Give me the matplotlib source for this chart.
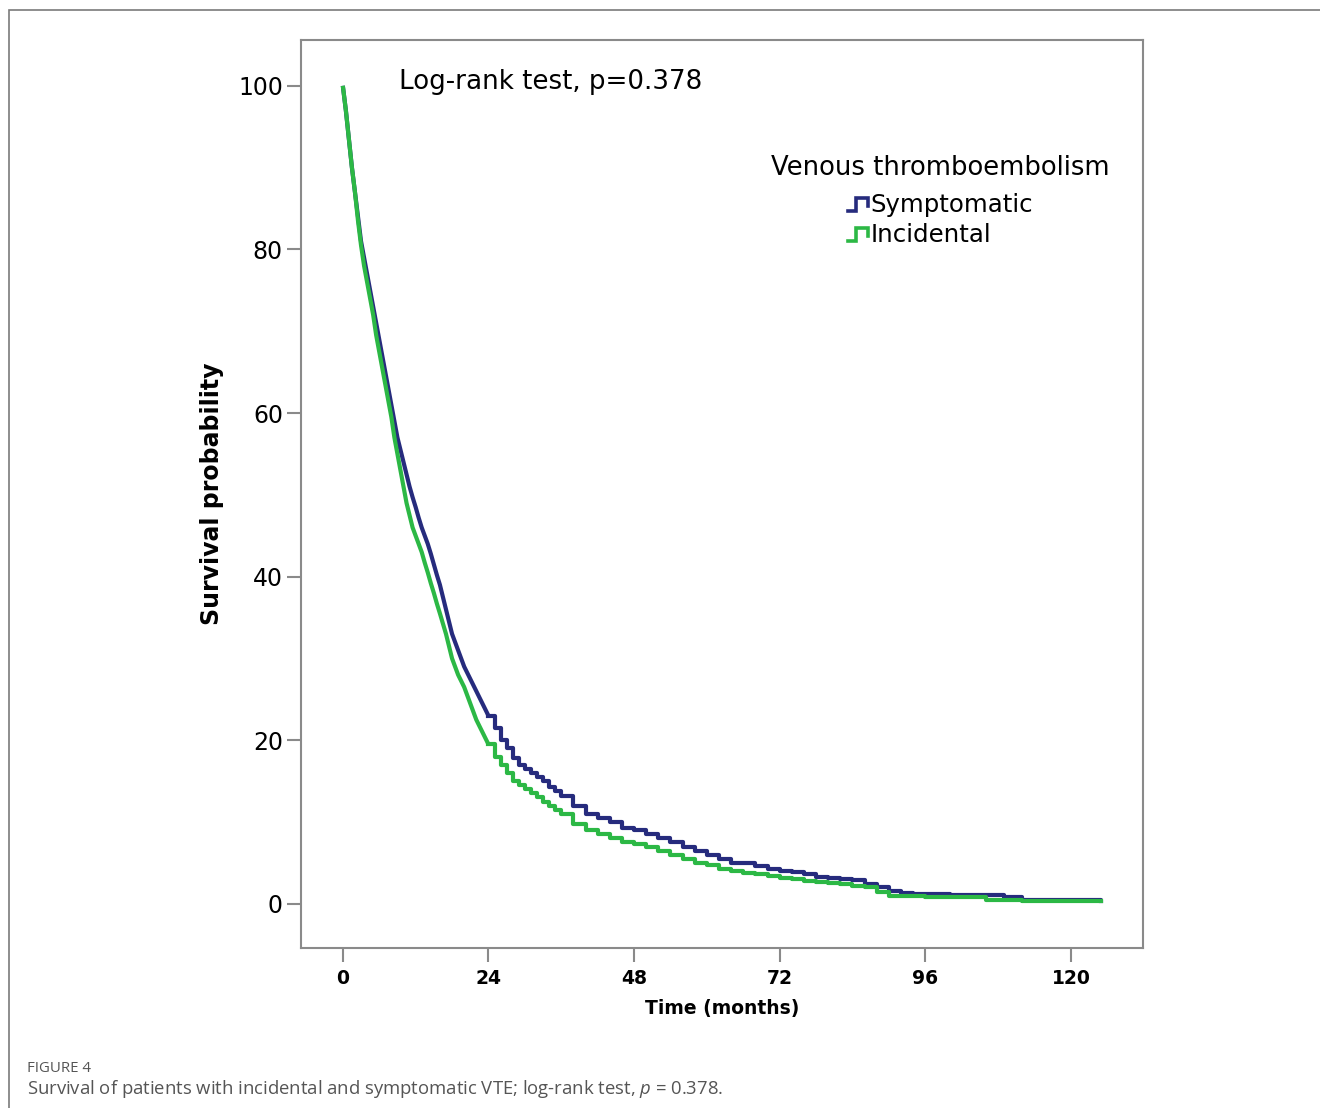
import matplotlib
matplotlib.use("Agg")
import matplotlib.pyplot as plt
from matplotlib.lines import Line2D
from matplotlib.patches import Rectangle

plt.rcParams["font.family"] = ["DejaVu Sans"]
plt.rcParams["mathtext.fontset"] = "custom"
plt.rcParams["mathtext.rm"] = "Open Sans"
plt.rcParams["mathtext.it"] = "Open Sans:italic"

# Kaplan-Meier estimates (months, % surviving)
sym_time = [0, 0.5, 1, 1.5, 2, 2.5, 3, 3.5, 4, 4.5, 5, 5.5, 6, 6.5, 7, 7.5, 8, 8.5, 9, 9.5,
            10, 10.5, 11, 11.5, 12, 12.5, 13, 13.5, 14, 14.5, 15, 15.5, 16, 17, 18, 19, 20,
            21, 22, 23, 24, 25, 26, 27, 28, 29, 30, 31, 32, 33, 34, 35, 36, 38, 40, 42, 44,
            46, 48, 50, 52, 54, 56, 58, 60, 62, 64, 66, 68, 70, 72, 74, 76, 78, 80, 82, 84,
            86, 88, 90, 92, 94, 100, 106, 109, 112, 125]
sym_surv = [100, 97, 93.5, 90, 87, 84, 81, 79, 77, 75, 73, 71, 69, 67, 65, 63, 61, 59, 57, 55.5,
            54, 52.5, 51, 49.7, 48.5, 47.2, 46, 45, 44, 42.8, 41.5, 40.2, 39, 36, 33, 31, 29,
            27.5, 26, 24.5, 23, 21.5, 20, 19, 17.8, 17, 16.5, 16, 15.5, 15, 14.3, 13.8, 13.2, 12, 11, 10.5, 10,
            9.3, 9, 8.5, 8, 7.5, 7, 6.5, 6, 5.5, 5, 5, 4.6, 4.3, 4, 3.9, 3.6, 3.3, 3.1, 3, 2.9,
            2.4, 2.1, 1.6, 1.3, 1.2, 1.1, 1.1, 0.8, 0.5, 0.4]

inc_time = [0, 0.5, 1, 1.5, 2, 2.5, 3, 3.5, 4, 4.5, 5, 5.5, 6, 6.5, 7, 7.5, 8, 8.5, 9, 9.5,
            10, 10.5, 11, 11.5, 12, 12.5, 13, 13.5, 14, 14.5, 15, 15.5, 16, 17, 18, 19, 20,
            21, 22, 23, 24, 25, 26, 27, 28, 29, 30, 31, 32, 33, 34, 35, 36, 38, 40, 42, 44,
            46, 48, 50, 52, 54, 56, 58, 60, 62, 64, 66, 68, 70, 72, 74, 76, 78, 80, 82, 84,
            86, 88, 90, 92, 96, 106, 112, 125]
inc_surv = [100, 97, 93.5, 90, 87, 83.5, 80.5, 78, 76, 74, 72, 69.5, 67.5, 65.5, 63.5, 61.5, 59.5, 57, 55, 53,
            51, 49, 47.5, 46, 45, 44, 43, 41.7, 40.5, 39.2, 38, 36.7, 35.5, 33, 30, 28, 26.5,
            24.5, 22.5, 21, 19.5, 18, 17, 16, 15, 14.5, 14, 13.5, 13, 12.5, 12, 11.5, 11, 9.8, 9, 8.5, 8,
            7.5, 7.3, 7, 6.5, 6, 5.5, 5, 4.7, 4.3, 4, 3.8, 3.6, 3.4, 3.2, 3, 2.8, 2.7, 2.6, 2.4, 2.2,
            2, 1.5, 1, 0.9, 0.8, 0.5, 0.3, 0.3]

labels = ["Symptomatic", "Incidental"]
colors = ["#262b7d", "#2cb845"]
x_ticks = [0, 24, 48, 72, 96, 120]
y_ticks = [0, 20, 40, 60, 80, 100]

fig = plt.figure(figsize=(13.2, 11.08), dpi=100)
ax = fig.add_axes([0.228, 0.1444, 0.638, 0.8195])

# steep early part: the many tiny steps blur into a smooth line, so draw it plainly;
# the flatter tail is drawn as a staircase
split = 24
for t, s, col, z in [(sym_time, sym_surv, colors[0], 2), (inc_time, inc_surv, colors[1], 3)]:
    k = t.index(split)
    ax.plot(t[:k + 1], s[:k + 1], color=col, lw=3.0, zorder=z, solid_capstyle="butt")
    ax.plot(t[k:], s[k:], drawstyle="steps-post", color=col, lw=3.0, zorder=z)

ax.set_xlim(-6.9, 131.9)
ax.set_ylim(-5.4, 105.6)
ax.set_xticks(x_ticks)
ax.set_yticks(y_ticks)
ax.tick_params(axis="both", direction="out", length=10, width=1.5, color="#8a8a8a")
ax.tick_params(axis="y", labelsize=17, pad=3)
ax.tick_params(axis="x", labelsize=13.5, pad=5)
for lab in ax.get_xticklabels():
    lab.set_fontweight("semibold")
for s in ax.spines.values():
    s.set_color("#8a8a8a")
    s.set_linewidth(1.5)

ax.set_ylabel("Survival probability", fontsize=17, fontweight="bold", labelpad=10)
ax.set_xlabel("Time (months)", fontsize=13.5, fontweight="bold", labelpad=8)

ax.text(0.1164, 0.9537, "Log-rank test, p=0.378", transform=ax.transAxes,
        fontsize=18.8, va="center", ha="left")

# legend, drawn by hand so the step glyphs match
ax.text(0.759, 0.859, "Venous thromboembolism", transform=ax.transAxes,
        fontsize=18.6, va="center", ha="center")
for i, (lab, col) in enumerate(zip(labels, colors)):
    yc = 0.8183 - i * 0.0331
    gx = [0.650, 0.659, 0.659, 0.673, 0.673]
    gy = [yc - 0.0065, yc - 0.0065, yc + 0.0075, yc + 0.0075, yc - 0.001]
    ax.add_line(Line2D(gx, gy, transform=ax.transAxes, color=col, lw=2.6,
                       solid_joinstyle="miter", clip_on=False))
    ax.text(0.676, yc, lab, transform=ax.transAxes, fontsize=17.6, va="center", ha="left")

# journal-style frame and caption
fig.patches.append(Rectangle((9 / 1320, -0.5), 2, 1.5 - 10 / 1108, transform=fig.transFigure,
                             fill=False, edgecolor="#7a7a7a", lw=1.2))
fig.text(0.0205, 0.0361, "FIGURE 4", fontsize=10.8, color="#555555", family="Open Sans",
         va="center", ha="left")
fig.text(0.0205, 0.0171,
         r"Survival of patients with incidental and symptomatic VTE; log-rank test, $p$ = 0.378.",
         fontsize=13.3, color="#555555", family="Open Sans", va="center", ha="left")

fig.savefig("out.png", dpi=100)
